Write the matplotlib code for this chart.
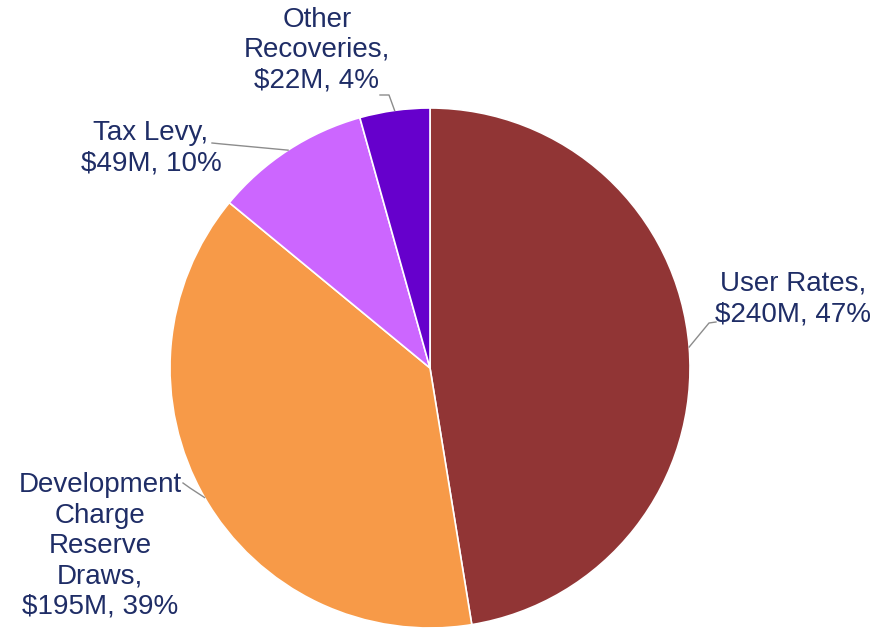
import numpy as np
import matplotlib
matplotlib.use("Agg")
import matplotlib.pyplot as plt

plt.rcParams['font.family'] = ['Liberation Sans', 'DejaVu Sans']

# data
names = ['User Rates', 'Development\nCharge\nReserve\nDraws', 'Tax Levy', 'Other\nRecoveries']
values = [240, 195, 49, 22]
pct_labels = ['47%', '39%', '10%', '4%']
colors = ['#913535', '#F79A48', '#CC66FF', '#6600CC']

W, H = 884, 631
fig = plt.figure(figsize=(W / 100, H / 100), dpi=100)
ax = fig.add_axes([0, 0, 1, 1])

cx, cy, r = 430, H - 368, 260
wedges, _ = ax.pie(values, colors=colors, startangle=90, counterclock=False,
                   center=(cx, cy), radius=r,
                   wedgeprops=dict(edgecolor='white', linewidth=1.2))
ax.set_xlim(0, W)
ax.set_ylim(0, H)
ax.set_aspect('equal')
ax.axis('off')

# label layout (pixel coords, y from top): text centre, leader start, leader elbow
layout = [
    ((793, 299), (716, 322), (709, 323)),
    ((100, 546), (183, 483), (190, 488)),
    ((151, 148), (212, 143), (222, 144)),
    ((317, 50), (380, 95), (389, 95)),
]

txt_color = '#1F2D66'
for w, name, v, p, (tc, ls, le) in zip(wedges, names, values, pct_labels, layout):
    label = '%s,\n$%dM, %s' % (name, v, p)
    ax.text(tc[0], H - tc[1], label, ha='center', va='center', fontsize=20,
            color=txt_color, linespacing=1.22)
    ang = np.deg2rad((w.theta1 + w.theta2) / 2)
    px, py = cx + r * np.cos(ang), cy + r * np.sin(ang)
    ax.plot([ls[0], le[0], px], [H - ls[1], H - le[1], py], color='#8C8C8C', lw=1)

fig.savefig('out.png', dpi=100, facecolor='white')
